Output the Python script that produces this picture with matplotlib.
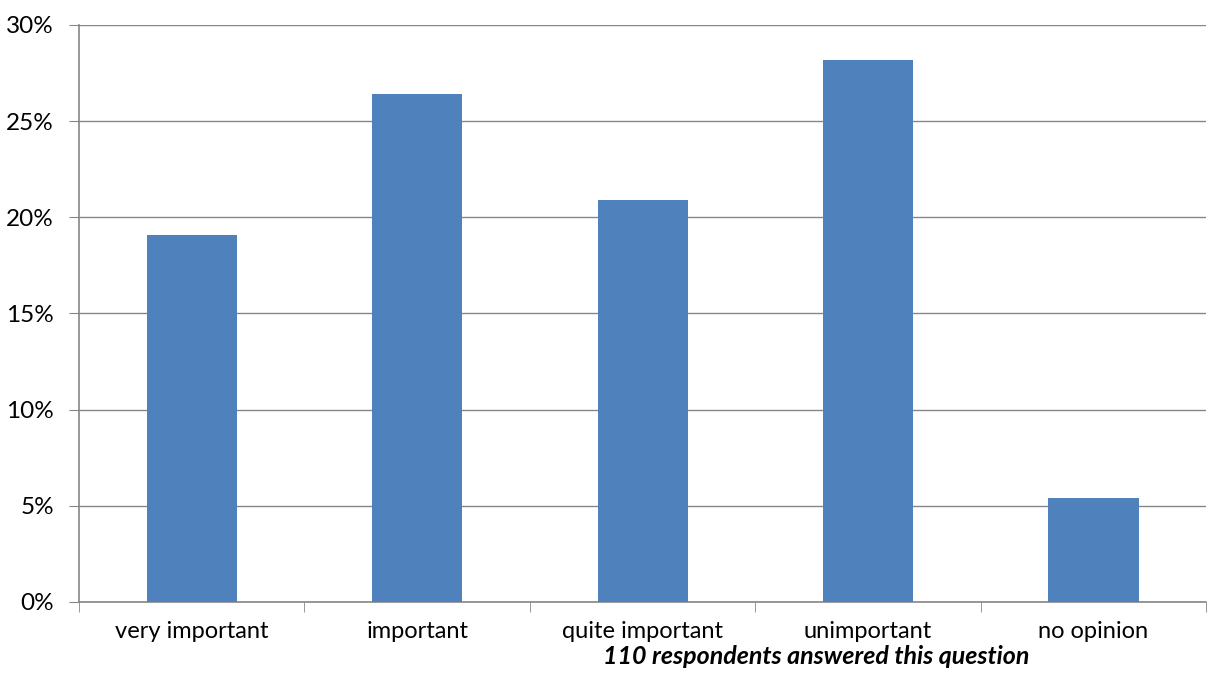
import matplotlib.pyplot as plt
from matplotlib.ticker import PercentFormatter

categories = ["very important", "important", "quite important", "unimportant", "no opinion"]
shares = [19.1, 26.4, 20.9, 28.2, 5.4]
yticks = [0, 5, 10, 15, 20, 25, 30]
note = "110 respondents answered this question"

plt.rcParams['font.family'] = ['Lato', 'DejaVu Sans']

fig = plt.figure(figsize=(12.16, 6.73), dpi=100)
ax = fig.add_axes([0.065, 0.1055, 0.927, 0.8575])

x = range(len(categories))
ax.bar(x, shares, width=0.4, color="#4F81BD", zorder=3)

ax.set_xlim(-0.5, len(categories) - 0.5)
ax.set_ylim(0, 30)
ax.set_yticks(yticks)
ax.yaxis.set_major_formatter(PercentFormatter(decimals=0))
ax.grid(axis="y", color="#868686", linewidth=1, zorder=0)

ax.set_xticks(list(x))
ax.set_xticklabels(categories)
ax.set_xticks([i - 0.5 for i in range(len(categories) + 1)], minor=True)
ax.tick_params(axis="x", which="major", length=0, pad=14, labelsize=17)
ax.tick_params(axis="x", which="minor", length=7, color="#868686")
ax.tick_params(axis="y", length=7, color="#868686", labelsize=17.5, pad=11)

for side in ["top", "right"]:
    ax.spines[side].set_visible(False)
for side in ["left", "bottom"]:
    ax.spines[side].set_color("#868686")
    ax.spines[side].set_linewidth(1.2)

fig.text(0.671, 0.007, note, ha="center", va="bottom", fontsize=18,
         fontweight="bold", fontstyle="italic")

fig.savefig("out.png", dpi=100)
